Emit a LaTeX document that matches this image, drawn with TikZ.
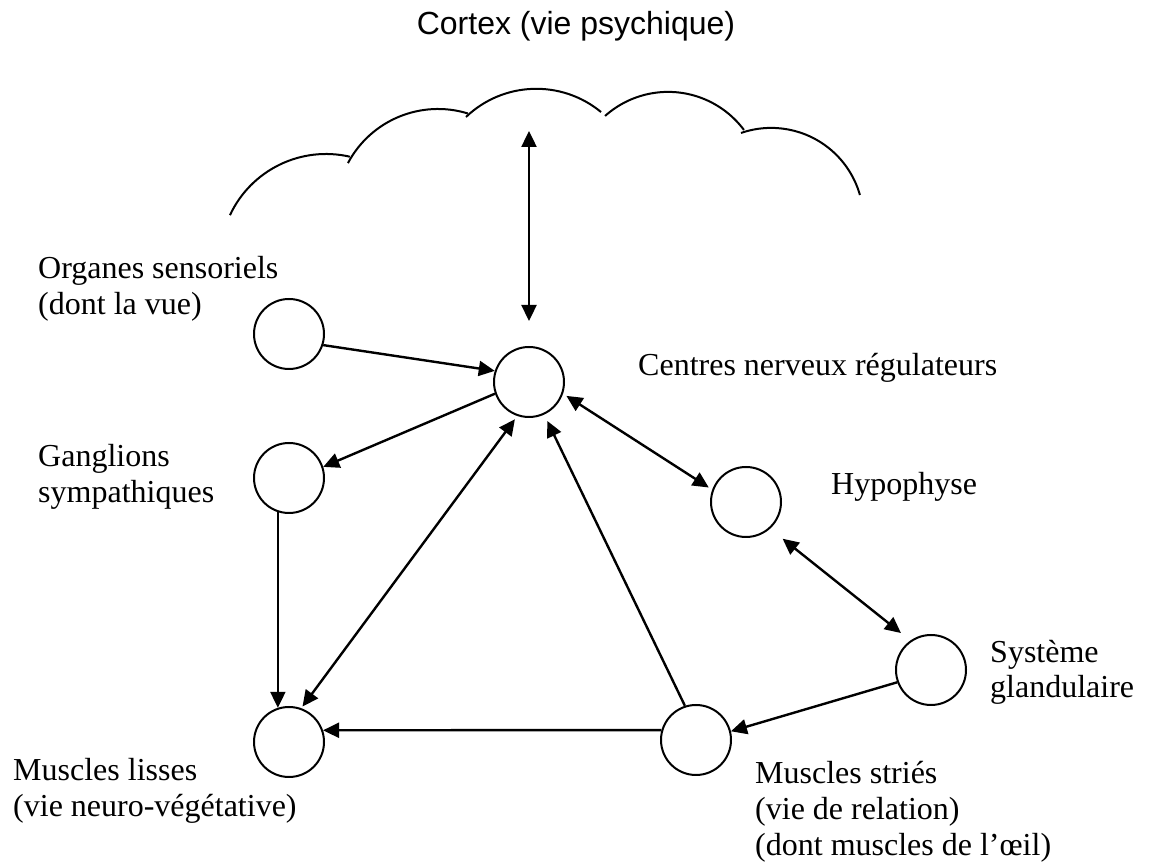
\documentclass[tikz,border=0pt]{standalone}
\usepackage{fontspec}
\setmainfont{Liberation Serif}
\newfontfamily\cortexfont{Liberation Sans}
\usetikzlibrary{arrows.meta}
\begin{document}
\begin{tikzpicture}[x=1pt,y=1pt,
  organ/.style={circle,draw,line width=2pt,minimum size=70pt,inner sep=0pt},
  lbl/.style={anchor=base west,inner sep=0pt,font=\fontsize{32}{36}\selectfont},
  oneway/.style={line width=2.4pt,-{Triangle[length=16pt,width=15pt]}},
  twoway/.style={line width=2.4pt,{Triangle[length=16pt,width=15pt]}-{Triangle[length=16pt,width=15pt]}},
  cloudline/.style={line width=2pt}]
\useasboundingbox (0,0) rectangle (1154,867);

% cloud (cortex)
\draw[cloudline] (326,607) ++(155:106pt) arc[start angle=155,end angle=77,radius=106pt];
\draw[cloudline] (438,656) ++(152:102pt) arc[start angle=152,end angle=73,radius=102pt];
\draw[cloudline] (536.3,676.4) ++(133.7:101.8pt) arc[start angle=133.7,end angle=50.5,radius=101.8pt];
\draw[cloudline] (668.1,680.5) ++(131.8:94.6pt) arc[start angle=131.8,end angle=36.7,radius=94.6pt];
\draw[cloudline] (771.2,646.9) ++(109.1:92.2pt) arc[start angle=109.1,end angle=15.8,radius=92.2pt];

\node[anchor=base,inner sep=0pt,font=\cortexfont\fontsize{32}{36}\selectfont] (cortextxt) at (576,832) {Cortex (vie psychique)};

% organs
\node[organ] (org) at (289,533) {};
\node[organ] (cen) at (529,485) {};
\node[organ] (gan) at (289,389) {};
\node[organ] (hyp) at (746,365) {};
\node[organ] (sys) at (931,197) {};
\node[organ] (str) at (696,127) {};
\node[organ] (lis) at (289,125) {};
\coordinate (ctx) at (529,736);

% labels
\node[lbl] (orgA) at (38,588) {Organes sensoriels};
\node[lbl] (orgB) at (38,552) {(dont la vue)};
\node[lbl] (ganA) at (38,400) {Ganglions};
\node[lbl] (ganB) at (38,364) {sympathiques};
\node[lbl] (cenA) at (638,491) {Centres nerveux régulateurs};
\node[lbl] (hypA) at (831,372) {Hypophyse};
\node[lbl] (sysA) at (990,204) {Système};
\node[lbl] (sysB) at (990,169) {glandulaire};
\node[lbl] (strA) at (755,83) {Muscles striés};
\node[lbl] (strB) at (755,47) {(vie de relation)};
\node[lbl] (strC) at (755,11) {(dont muscles de l’œil)};
\node[lbl] (lisA) at (13,86) {Muscles lisses};
\node[lbl] (lisB) at (13,50) {(vie neuro-végétative)};

% connectors
\draw[twoway,shorten >=25pt] (ctx) -- (cen.north);
\draw[oneway] (org.-18) -- (cen.162);
\draw[oneway] (cen.199) -- (gan.18);
\draw[oneway] (gan.252) -- (lis.108);
\draw[twoway,shorten <=4pt,shorten >=2pt] (cen.251) -- (lis.70);
\draw[oneway,shorten >=7pt] (str.108) -- (cen.-65);
\draw[twoway,shorten <=4pt,shorten >=4pt] (cen.-19) -- (hyp.160);
\draw[twoway,shorten <=16pt,shorten >=12pt] (hyp.-48) -- (sys.125);
\draw[oneway] (sys.200) -- (str.14);
\draw[oneway] (str.164) -- (lis.19.5);
\end{tikzpicture}
\end{document}
